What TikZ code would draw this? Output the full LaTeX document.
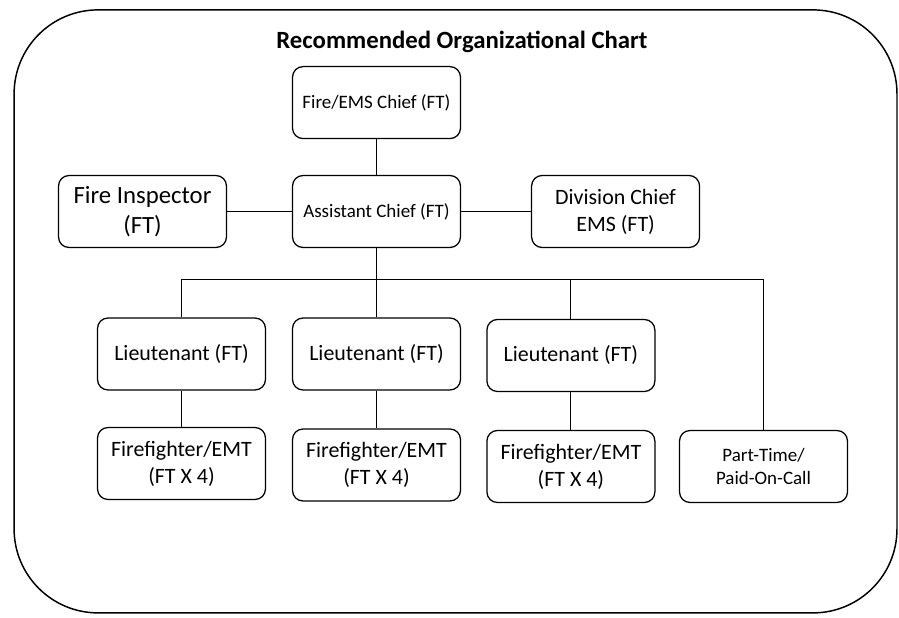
\documentclass[tikz,border=0pt]{standalone}
\usepackage{fontspec}
\setmainfont{Carlito}
\usetikzlibrary{positioning}
\tikzset{
  box/.style  = {rectangle, draw, line width=1.2pt, rounded corners=10pt,
                 minimum width=5.6cm, minimum height=2.4cm, align=center,
                 inner sep=2pt},
  txt/.style  = {font=\fontsize{20.8}{25.5}\selectfont},
  big/.style  = {font=\fontsize{23.5}{28.5}\selectfont},
  sml/.style  = {font=\fontsize{18}{21.8}\selectfont},
  conn/.style = {line width=1.1pt},
  frame/.style = {line width=1.4pt, rounded corners=2.8cm}
}
\begin{document}
\begin{tikzpicture}
  \useasboundingbox (0,0) rectangle (29.967,20.6);
  \draw[frame] (0.47,0.17) rectangle (29.9,20.27);
  \node[font=\fontsize{23.5}{28}\selectfont\bfseries] (title) at (15.4,19.2) {Recommended Organizational Chart};
  % top of the chart
  \node[box,sml] (chief) at (12.55,17.18) {Fire/EMS Chief (FT)};
  \node[box,sml] (asst) at (12.55,13.55) {Assistant Chief (FT)};
  \node[box,big] (insp) at (4.75,13.55) {Fire Inspector\\(FT)};
  \node[box,txt] (div) at (20.52,13.55) {Division Chief\\EMS (FT)};
  % lieutenants
  \node[box,txt] (lt1) at (6.05,8.8) {Lieutenant (FT)};
  \node[box,txt] (lt2) at (12.55,8.8) {Lieutenant (FT)};
  \node[box,txt] (lt3) at (19.03,8.75) {Lieutenant (FT)};
  % crews
  \node[box,txt] (ff1) at (6.05,5.15) {Firefighter/EMT\\(FT X 4)};
  \node[box,txt] (ff2) at (12.55,5.1) {Firefighter/EMT\\(FT X 4)};
  \node[box,txt] (ff3) at (19.03,5.05) {Firefighter/EMT\\(FT X 4)};
  \node[box,sml] (pt) at (25.45,5.05) {Part-Time/\\Paid-On-Call};
  \coordinate (bus) at (12.55,11.27);
  \draw[conn] (chief) -- (asst);
  \draw[conn] (insp) -- (asst);
  \draw[conn] (asst) -- (div);
  \draw[conn] (asst.south) -- (bus);
  \draw[conn] (lt1.north) |- (bus) -| (pt.north);
  \draw[conn] (bus) -- (lt2.north);
  \draw[conn] (lt3.north) |- (bus);
  \draw[conn] (lt1) -- (ff1);
  \draw[conn] (lt2) -- (ff2);
  \draw[conn] (lt3) -- (ff3);
\end{tikzpicture}
\end{document}
